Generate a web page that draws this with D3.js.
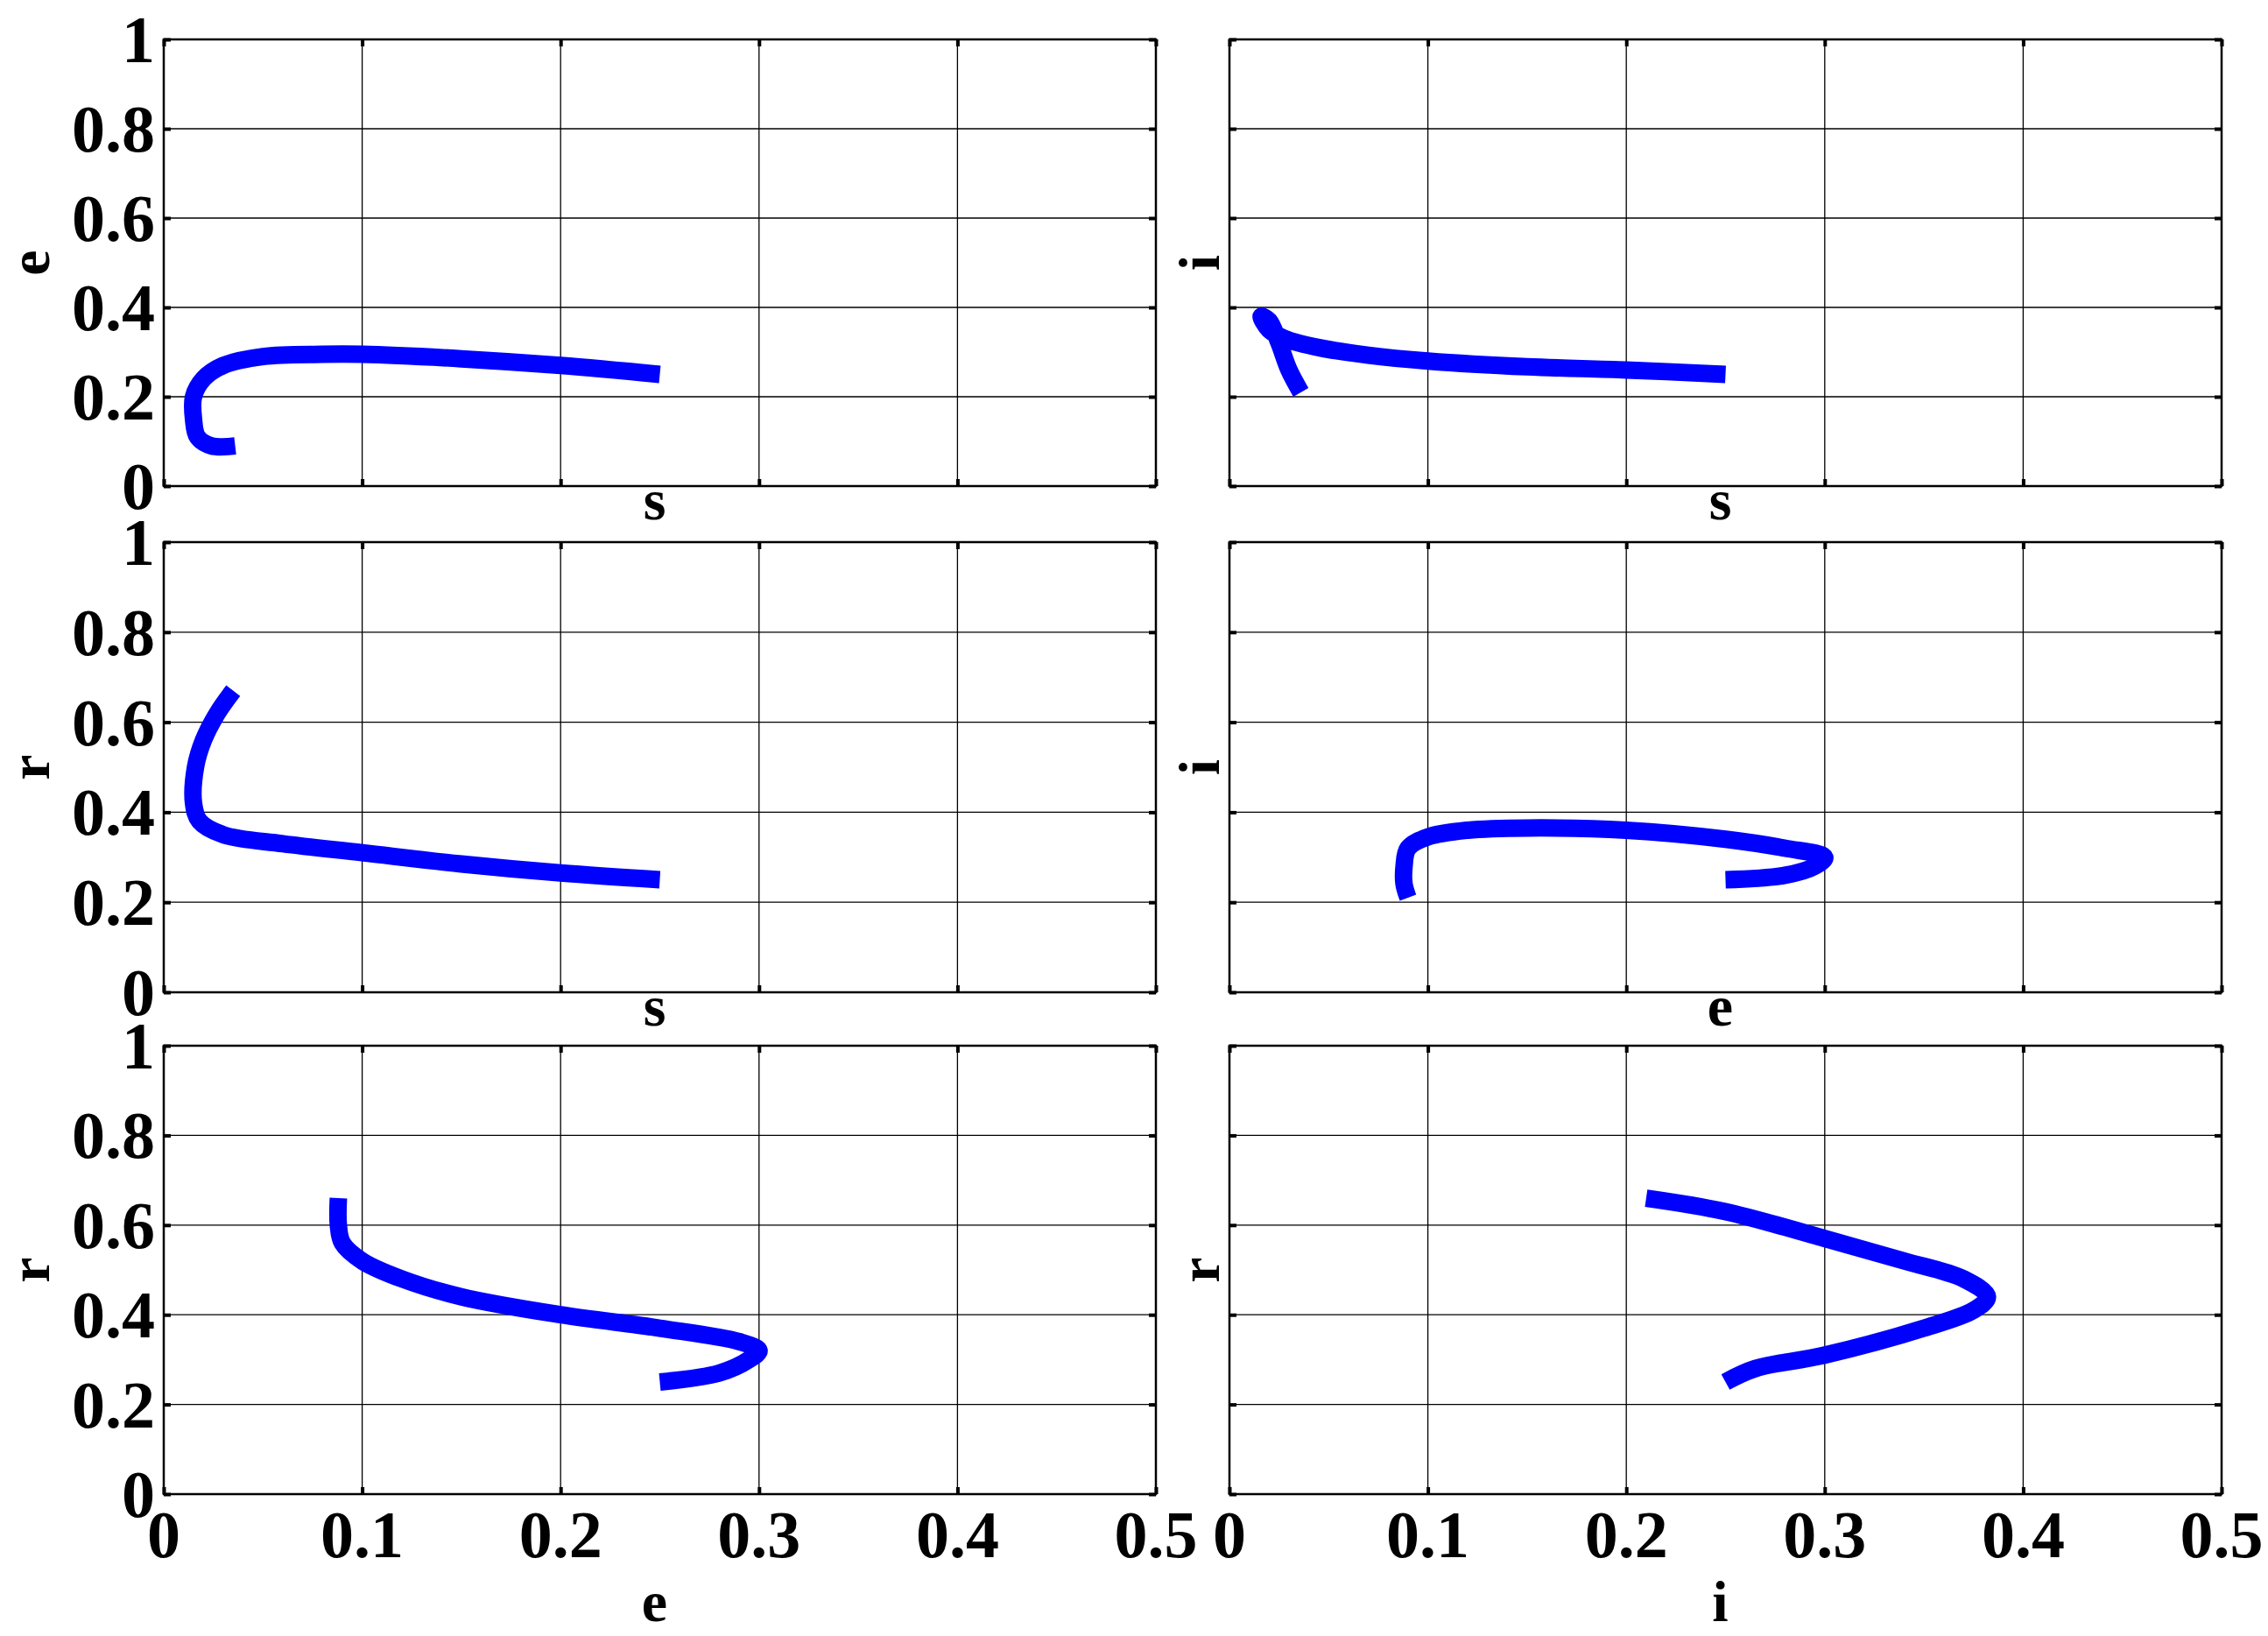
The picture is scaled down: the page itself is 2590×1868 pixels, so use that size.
<!DOCTYPE html>
<html><head><meta charset="utf-8">
<script src="https://cdn.jsdelivr.net/npm/d3@7"></script>
<style>body{margin:0;background:#fff}</style>
</head><body>
<svg id="c" width="2590" height="1868"></svg>
<script>
const xTicks=[0,0.1,0.2,0.3,0.4,0.5];
const yTicks=[0,0.2,0.4,0.6,0.8,1];
const xLabels=["s","s","s","e","e","i"];
const yLabels=["e","i","r","i","r","r"];
const seSE=[[0.25,0.25],[0.2,0.27],[0.15,0.285],[0.1,0.295],[0.08,0.295],[0.05,0.29],[0.03,0.27],[0.02,0.24],[0.015,0.2],[0.015,0.15],[0.017,0.11],[0.024,0.09],[0.036,0.09]];
const seSI=[[0.25,0.25],[0.2,0.26],[0.15,0.267],[0.1,0.28],[0.07,0.293],[0.045,0.31],[0.028,0.33],[0.02,0.35],[0.016,0.38],[0.02,0.37],[0.025,0.32],[0.03,0.26],[0.036,0.21]];
const seSR=[[0.25,0.25],[0.2,0.265],[0.15,0.285],[0.1,0.31],[0.06,0.33],[0.03,0.35],[0.018,0.38],[0.015,0.42],[0.016,0.5],[0.02,0.56],[0.027,0.62],[0.035,0.67]];
const seEI=[[0.25,0.25],[0.28,0.26],[0.295,0.28],[0.3,0.3],[0.28,0.32],[0.25,0.34],[0.2,0.36],[0.15,0.365],[0.12,0.36],[0.1,0.345],[0.09,0.32],[0.088,0.28],[0.088,0.24],[0.09,0.21]];
const seER=[[0.25,0.25],[0.28,0.27],[0.295,0.3],[0.3,0.32],[0.29,0.34],[0.25,0.37],[0.2,0.4],[0.15,0.44],[0.12,0.48],[0.1,0.52],[0.09,0.56],[0.088,0.6],[0.088,0.66]];
const seIR=[[0.25,0.25],[0.265,0.28],[0.3,0.31],[0.35,0.37],[0.375,0.41],[0.382,0.44],[0.37,0.48],[0.34,0.52],[0.3,0.57],[0.25,0.63],[0.21,0.66]];
const series=[seSE,seSI,seSR,seEI,seER,seIR];

const svg=d3.select("#c");
const cols=[[187,1320],[1404,2537]];
const rows=[[45,555],[619,1133],[1194,1706]];
const font="'Liberation Serif','Times New Roman',serif";
series.forEach((data,k)=>{
  const r=Math.floor(k/2), c=k%2;
  const x=d3.scaleLinear().domain([0,0.5]).range(cols[c]);
  const y=d3.scaleLinear().domain([0,1]).range([rows[r][1],rows[r][0]]);
  const g=svg.append("g");
  g.selectAll(".gx").data(xTicks).join("line").attr("x1",d=>x(d)).attr("x2",d=>x(d))
    .attr("y1",rows[r][0]).attr("y2",rows[r][1]).attr("stroke","#000").attr("stroke-width",1.3);
  g.selectAll(".gy").data(yTicks).join("line").attr("y1",d=>y(d)).attr("y2",d=>y(d))
    .attr("x1",cols[c][0]).attr("x2",cols[c][1]).attr("stroke","#000").attr("stroke-width",1.3);
  g.append("rect").attr("x",cols[c][0]).attr("y",rows[r][0]).attr("width",cols[c][1]-cols[c][0])
    .attr("height",rows[r][1]-rows[r][0]).attr("fill","none").attr("stroke","#000").attr("stroke-width",2.5);
  const ax=g.append("g").attr("transform",`translate(0,${rows[r][1]})`).call(d3.axisTop(x).tickValues(xTicks).tickSize(8).tickFormat(""));
  const ax2=g.append("g").attr("transform",`translate(0,${rows[r][0]})`).call(d3.axisBottom(x).tickValues(xTicks).tickSize(8).tickFormat(""));
  const ay=g.append("g").attr("transform",`translate(${cols[c][0]},0)`).call(d3.axisRight(y).tickValues(yTicks).tickSize(8).tickFormat(""));
  const ay2=g.append("g").attr("transform",`translate(${cols[c][1]},0)`).call(d3.axisLeft(y).tickValues(yTicks).tickSize(8).tickFormat(""));
  [ax,ax2,ay,ay2].forEach(a=>{a.select(".domain").remove();a.selectAll("line").attr("stroke-width",4);});
  if(c===0){
    g.selectAll(".yl").data(yTicks).join("text").attr("x",cols[c][0]-10).attr("y",d=>y(d)+26)
      .attr("text-anchor","end").attr("font-family",font).attr("font-weight","bold").attr("font-size",76)
      .text(d=>d3.format("~g")(d));
  }
  if(r===2){
    g.selectAll(".xl").data(xTicks).join("text").attr("x",d=>x(d)).attr("y",rows[r][1]+72)
      .attr("text-anchor","middle").attr("font-family",font).attr("font-weight","bold").attr("font-size",76)
      .text(d=>d3.format("~g")(d));
  }
  const xm=(cols[c][0]+cols[c][1])/2;
  g.append("text").attr("x",xm-6).attr("y",r===2?rows[r][1]+145:rows[r][1]+38)
    .attr("text-anchor","middle").attr("font-family",font).attr("font-weight","bold").attr("font-size",66).text(xLabels[k]);
  const ym=(rows[r][0]+rows[r][1])/2;
  const lx=c===0?56:1392;
  g.append("text").attr("transform",`translate(${lx},${ym}) rotate(-90)`)
    .attr("text-anchor","middle").attr("font-family",font).attr("font-weight","bold").attr("font-size",66).text(yLabels[k]);
  g.append("path").datum(data).attr("d",d3.line().x(d=>x(d[0])).y(d=>y(d[1])).curve(d3.curveCatmullRom))
    .attr("fill","none").attr("stroke","#0000ff").attr("stroke-width",20).attr("stroke-linejoin","round");
});
</script>
</body></html>
